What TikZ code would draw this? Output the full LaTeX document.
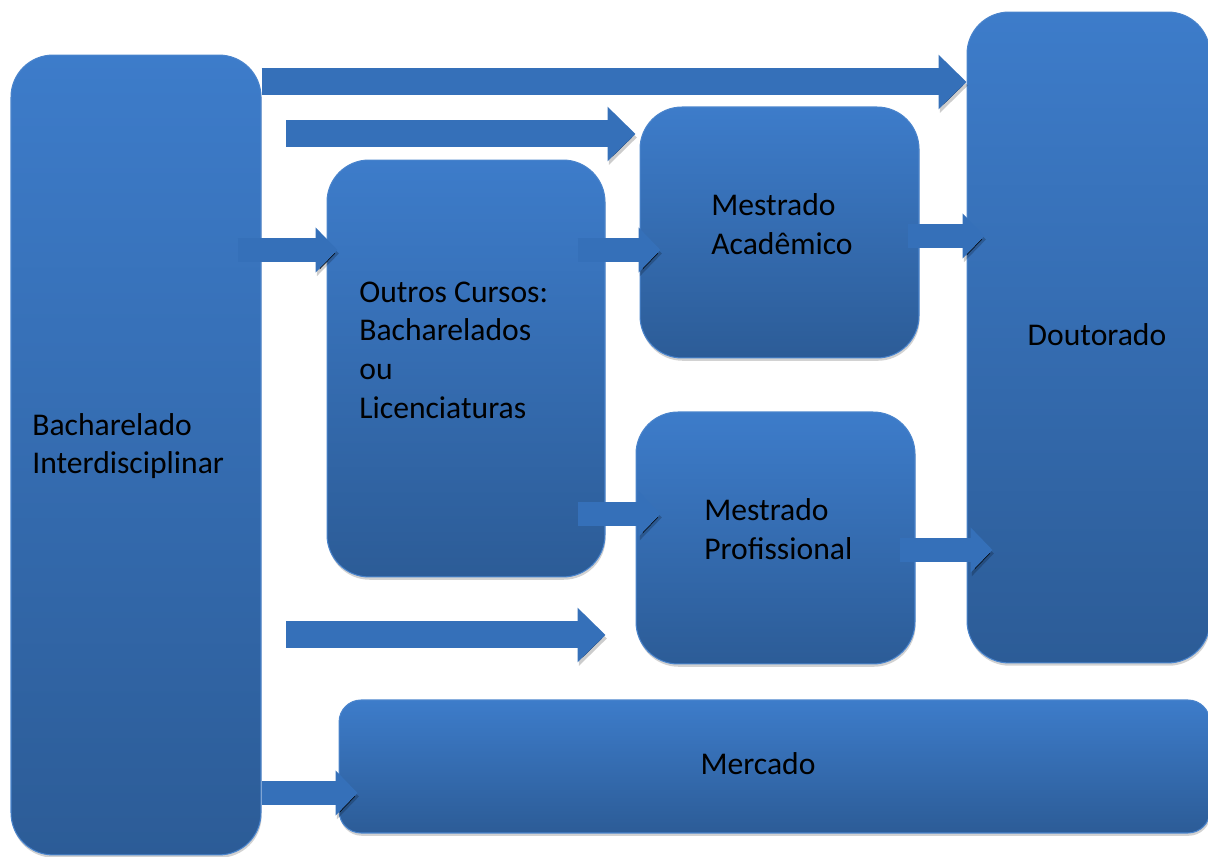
\documentclass[tikz,border=0pt]{standalone}
\usepackage{fontspec}
\setmainfont{Carlito}
\usetikzlibrary{arrows.meta,positioning,shadows}
\definecolor{boxtop}{HTML}{3D7CCA}
\definecolor{boxbot}{HTML}{2C5C97}
\definecolor{boxline}{HTML}{4A84CC}
\definecolor{arrowblue}{HTML}{3570B9}

\begin{document}
\begin{tikzpicture}[x=0.02cm, y=-0.02cm,
    stage/.style={draw=boxline, line width=0.6pt, rounded corners=0.84cm, top color=boxtop, bottom color=boxbot,
        drop shadow={shadow xshift=0.4pt, shadow yshift=-1.6pt, fill=black!25, opacity=0.7}, inner sep=0pt},
    caption/.style={font=\fontsize{18}{22}\selectfont, align=left, inner sep=0pt},
    bigflow/.style={draw=arrowblue, line width=0.54cm, -{Triangle[length=0.56cm, width=1.06cm]},
        preaction={draw=black, draw opacity=0.2, transform canvas={xshift=0.8pt, yshift=-2pt}}},
    flow/.style={draw=arrowblue, line width=0.48cm, -{Triangle[length=0.44cm, width=0.88cm]},
        preaction={draw=black, draw opacity=0.2, transform canvas={xshift=0.8pt, yshift=-2pt}}}]
    \useasboundingbox (0,0) rectangle (1208,857);

    % Boxes
    \node[stage, minimum width=5cm, minimum height=16cm] (bi) at (136,455) {};
    \node[stage, minimum width=4.86cm, minimum height=13.02cm] (dout) at (1088.5,337.5) {};
    \node[stage, minimum width=5.56cm, minimum height=8.34cm] (oc) at (466,368.5) {};
    \node[stage, minimum width=5.58cm, minimum height=5.02cm] (ma) at (779.5,232.5) {};
    \node[stage, minimum width=5.58cm, minimum height=5.04cm] (mp) at (775.5,538) {};
    \node[stage, rounded corners=0.44cm, minimum width=17.42cm, minimum height=2.66cm] (merc) at (774.5,766.5) {};

    % Texts
    \node[caption, anchor=west] (bitext) at (32,446) {Bacharelado\\Interdisciplinar};
    \node[caption, anchor=west] (octext) at (359,350) {Outros Cursos:\\Bacharelados\\ou\\Licenciaturas};
    \node[caption, anchor=west] (matext) at (711,224) {Mestrado\\Acadêmico};
    \node[caption, anchor=west] (mptext) at (704,529) {Mestrado\\Profissional};
    \node[caption] (douttext) at (1097,335) {Doutorado};
    \node[caption] (merctext) at (758,764) {Mercado};

    % Arrows
    \draw[bigflow] (bi.east |- 0,82) -- (dout.west |- 0,82);
    \draw[bigflow, shorten <=0.5cm, shorten >=0.08cm] (bi.east |- 0,134) -- (ma.west |- 0,134);
    \draw[flow, shorten <=-0.48cm, shorten >=-0.22cm] (bi.east |- 0,250) -- (oc.west |- 0,250);
    \draw[flow, shorten <=-0.56cm, shorten >=-0.42cm] (oc.east |- 0,250) -- (ma.west |- 0,250);
    \draw[flow, shorten <=-0.24cm, shorten >=-0.36cm] (ma.east |- 0,236) -- (dout.west |- 0,236);
    \draw[flow, shorten <=-0.56cm, shorten >=-0.5cm] (oc.east |- 0,514) -- (mp.west |- 0,514);
    \draw[flow, shorten <=-0.32cm, shorten >=-0.52cm] (mp.east |- 0,550) -- (dout.west |- 0,550);
    \draw[bigflow, shorten <=0.5cm, shorten >=0.6cm] (bi.east |- 0,635) -- (mp.west |- 0,635);
    \draw[flow, shorten >=-0.38cm] (bi.east |- 0,793) -- (merc.west |- 0,793);
\end{tikzpicture}
\end{document}
